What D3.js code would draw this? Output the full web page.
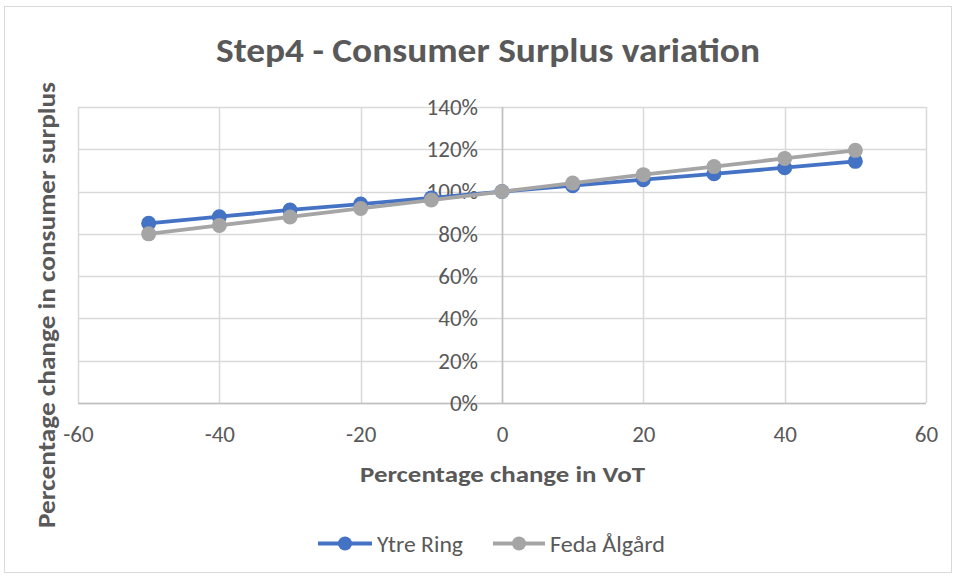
<!DOCTYPE html>
<html>
<head>
<meta charset="utf-8">
<script src="https://cdn.jsdelivr.net/npm/d3@7"></script>
<style>
  html, body { margin: 0; padding: 0; background: #fff; }
  svg { display: block; }
  text { font-family: Carlito, Calibri, "Liberation Sans", "Open Sans", sans-serif; }
</style>
</head>
<body>
<svg id="chart" width="956" height="576"></svg>
<script>
// Percentage change in value of time (VoT)
const voT = [-50, -40, -30, -20, -10, 0, 10, 20, 30, 40, 50];
// Relative consumer surplus (1 = 100%)
const ytreRing = [0.85, 0.881, 0.913, 0.941, 0.97, 1.0, 1.028, 1.056, 1.084, 1.113, 1.143];
const fedaAlgard = [0.80, 0.84, 0.88, 0.92, 0.96, 1.0, 1.04, 1.08, 1.118, 1.157, 1.195];
const xTicks = [-60, -40, -20, 0, 20, 40, 60];
const yTicks = [0, 0.2, 0.4, 0.6, 0.8, 1.0, 1.2, 1.4];

const seriesList = [
  { name: "Ytre Ring", values: ytreRing, color: "#4472C4" },
  { name: "Feda Ålgård", values: fedaAlgard, color: "#A5A5A5" }
];

const FONT = 'Carlito, Calibri, "Liberation Sans", "Open Sans", sans-serif';
const svg = d3.select("#chart");
const W = 956, H = 576;

// chart frame
svg.append("rect").attr("x", 4.5).attr("y", 6.5).attr("width", W - 9).attr("height", H - 10)
  .attr("fill", "#fff").attr("stroke", "#d9d9d9").attr("stroke-width", 1);

const plot = { left: 78, right: 926, top: 107, bottom: 403 };
const x = d3.scaleLinear().domain([-60, 60]).range([plot.left, plot.right]);
const y = d3.scaleLinear().domain([0, 1.4]).range([plot.bottom, plot.top]);

// gridlines
const grid = svg.append("g");
grid.selectAll("line.h").data(yTicks).join("line")
  .attr("x1", plot.left).attr("x2", plot.right)
  .attr("y1", d => Math.round(y(d)) + 0.5).attr("y2", d => Math.round(y(d)) + 0.5)
  .attr("stroke", "#d9d9d9").attr("stroke-width", 1.5);
grid.selectAll("line.v").data(xTicks).join("line")
  .attr("y1", plot.top).attr("y2", plot.bottom)
  .attr("x1", d => Math.round(x(d)) + 0.5).attr("x2", d => Math.round(x(d)) + 0.5)
  .attr("stroke", "#d9d9d9").attr("stroke-width", 1.5);

// axis lines through the origin
svg.append("line").attr("x1", Math.round(x(0)) + 0.5).attr("x2", Math.round(x(0)) + 0.5)
  .attr("y1", plot.top).attr("y2", plot.bottom).attr("stroke", "#bfbfbf").attr("stroke-width", 1.5);
svg.append("line").attr("x1", plot.left).attr("x2", plot.right)
  .attr("y1", Math.round(y(0)) + 0.5).attr("y2", Math.round(y(0)) + 0.5)
  .attr("stroke", "#bfbfbf").attr("stroke-width", 1.5);

// y tick labels sit next to the vertical axis at x = 0
const yAxis = d3.axisLeft(y).tickValues(yTicks).tickFormat(d3.format(".0%")).tickSize(0).tickPadding(24);
const yg = svg.append("g").attr("transform", `translate(${x(0)},0)`).call(yAxis);
yg.select(".domain").remove();
yg.selectAll("text").attr("fill", "#595959").style("font-size", "23px").style("font-family", FONT);

// x tick labels below the plot (plain hyphen for negatives)
const xAxis = d3.axisBottom(x).tickValues(xTicks).tickFormat(d => String(d)).tickSize(0).tickPadding(23);
const xg = svg.append("g").attr("transform", `translate(0,${plot.bottom})`).call(xAxis);
xg.select(".domain").remove();
xg.selectAll("text").attr("fill", "#595959").style("font-size", "23px").style("font-family", FONT);

// series
const line = d3.line().x(d => x(d[0])).y(d => y(d[1]));
seriesList.forEach(s => {
  const pts = voT.map((v, i) => [v, s.values[i]]);
  svg.append("path").datum(pts).attr("d", line)
    .attr("fill", "none").attr("stroke", s.color).attr("stroke-width", 3.8).attr("stroke-linejoin", "round");
  svg.append("g").selectAll("circle").data(pts).join("circle")
    .attr("cx", d => x(d[0])).attr("cy", d => y(d[1])).attr("r", 7.5)
    .attr("fill", s.color);
});

// title
svg.append("text").attr("x", 216).attr("y", 62)
  .attr("fill", "#595959").style("font-size", "34px").style("font-weight", "bold")
  .attr("textLength", 544).attr("lengthAdjust", "spacingAndGlyphs")
  .text("Step4 - Consumer Surplus variation");

// axis titles
svg.append("text").attr("x", 360).attr("y", 482)
  .attr("fill", "#595959").style("font-size", "22px").style("font-weight", "bold")
  .attr("textLength", 285).attr("lengthAdjust", "spacingAndGlyphs")
  .text("Percentage change in VoT");
svg.append("text").attr("transform", "translate(55,528) rotate(-90)")
  .attr("fill", "#595959").style("font-size", "25px").style("font-weight", "bold")
  .attr("textLength", 446).attr("lengthAdjust", "spacingAndGlyphs")
  .text("Percentage change in consumer surplus");

// legend
const legendItems = [
  { s: seriesList[0], x0: 318, x1: 372, tx: 377, tw: 86 },
  { s: seriesList[1], x0: 493, x1: 545, tx: 550, tw: 115 }
];
const lg = svg.append("g");
legendItems.forEach(it => {
  lg.append("line").attr("x1", it.x0).attr("x2", it.x1).attr("y1", 543.5).attr("y2", 543.5)
    .attr("stroke", it.s.color).attr("stroke-width", 3.8);
  lg.append("circle").attr("cx", (it.x0 + it.x1) / 2).attr("cy", 543.5).attr("r", 7).attr("fill", it.s.color);
  lg.append("text").attr("x", it.tx).attr("y", 551.5).attr("fill", "#595959")
    .style("font-size", "23px")
    .attr("textLength", it.tw).attr("lengthAdjust", "spacingAndGlyphs")
    .text(it.s.name);
});
</script>
</body>
</html>
